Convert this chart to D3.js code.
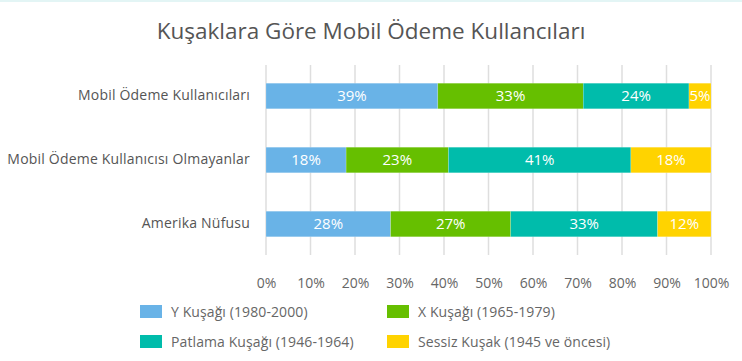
<!DOCTYPE html>
<html><head><meta charset="utf-8">
<script src="https://cdn.jsdelivr.net/npm/d3@7"></script>
<style>
body{margin:0;background:#fff;}
svg{display:block;font-family:"Open Sans",sans-serif;}
</style></head><body>
<svg id="c" width="742" height="361"></svg>
<script>
const title = "Kuşaklara Göre Mobil Ödeme Kullancıları";
const categories = ["Mobil Ödeme Kullanıcıları", "Mobil Ödeme Kullanıcısı Olmayanlar", "Amerika Nüfusu"];
const seriesNames = ["Y Kuşağı (1980-2000)", "X Kuşağı (1965-1979)", "Patlama Kuşağı (1946-1964)", "Sessiz Kuşak (1945 ve öncesi)"];
const seriesKeys = ["y", "x", "boom", "silent"];
const colors = ["#69b3e7", "#66bf00", "#00bcab", "#ffd300"];
const yGen = [39, 18, 28];
const xGen = [33, 23, 27];
const boomGen = [24, 41, 33];
const silentGen = [5, 18, 12];
const tickValues = [0,0.1,0.2,0.3,0.4,0.5,0.6,0.7,0.8,0.9,1];

const rows = categories.map((c,i)=>({cat:c, y:yGen[i], x:xGen[i], boom:boomGen[i], silent:silentGen[i]}));
const stacked = d3.stack().keys(seriesKeys).offset(d3.stackOffsetExpand)(rows);

const svg = d3.select("#c");
svg.append("rect").attr("x",0).attr("y",0).attr("width",742).attr("height",2).attr("fill","#e3f5f5");

svg.append("text").attr("x",371).attr("y",39).attr("text-anchor","middle")
  .attr("font-size",22.5).attr("fill","#555").text(title);

const x = d3.scaleLinear().domain([0,1]).range([266,711]);
const y = d3.scaleBand().domain(categories).range([64,256]).paddingInner(0.6).paddingOuter(0.3);

// gridlines
svg.append("g").selectAll("line").data(tickValues).join("line")
  .attr("x1",d=>x(d)).attr("x2",d=>x(d)).attr("y1",65).attr("y2",255)
  .attr("stroke","#dedede").attr("stroke-width",1.5);

const g = svg.append("g");
stacked.forEach((s,si)=>{
  g.append("g").selectAll("rect").data(s).join("rect")
    .attr("x",d=>x(d[0])).attr("width",d=>x(d[1])-x(d[0]))
    .attr("y",d=>y(d.data.cat)).attr("height",y.bandwidth())
    .attr("fill",colors[si]).attr("stroke","rgba(255,255,255,0.35)").attr("stroke-width",0.5);
  g.append("g").selectAll("text").data(s).join("text")
    .attr("x",d=>(x(d[0])+x(d[1]))/2).attr("y",d=>y(d.data.cat)+y.bandwidth()/2)
    .attr("dy","0.36em").attr("text-anchor","middle").attr("font-size",15).attr("fill","#fff")
    .text(d=>d.data[seriesKeys[si]]+"%");
});

// category labels
const yAxis = d3.axisLeft(y).tickSize(0).tickPadding(16);
const ya = svg.append("g").attr("transform","translate(266,0)").call(yAxis);
ya.select(".domain").remove();
ya.selectAll("text").attr("font-size",14).attr("letter-spacing",0.2).attr("fill","#555").attr("font-family","Open Sans, sans-serif");

// x axis
const xAxis = d3.axisBottom(x).tickValues(tickValues).tickFormat(d3.format(".0%")).tickSize(0).tickPadding(18);
const xa = svg.append("g").attr("transform","translate(0,260)").call(xAxis);
xa.select(".domain").remove();
xa.selectAll("text").attr("font-size",14).attr("fill","#666").attr("font-family","Open Sans, sans-serif");

// legend
const legPos = [[140,305],[387,305],[140,335],[387,335]];
const leg = svg.append("g");
seriesNames.forEach((n,i)=>{
  const [lx,ly] = legPos[i];
  leg.append("rect").attr("x",lx).attr("y",ly).attr("width",22).attr("height",13).attr("fill",colors[i]);
  leg.append("text").attr("x",lx+31).attr("y",ly+6.5).attr("dy","0.36em")
    .attr("font-size",14).attr("letter-spacing",0.1).attr("fill","#666").text(n);
});
</script>
</body></html>
